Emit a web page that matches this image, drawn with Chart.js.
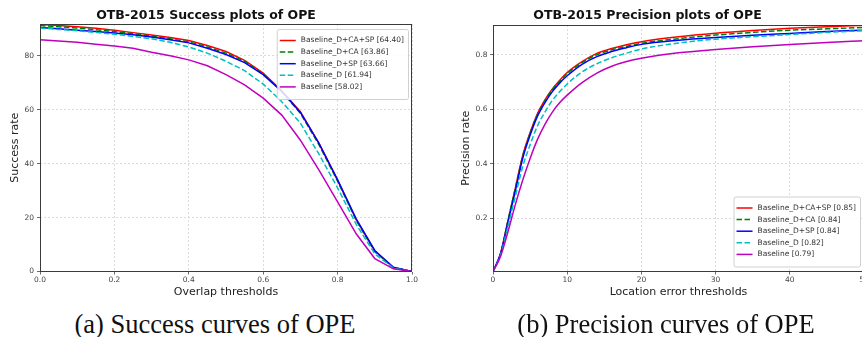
<!DOCTYPE html>
<html>
<head>
<meta charset="utf-8">
<script src="https://cdn.jsdelivr.net/npm/chart.js@4.4.1/dist/chart.umd.min.js"></script>
<style>
  html, body { margin: 0; padding: 0; background: #fff; overflow: hidden; }
  body { width: 862px; height: 337px; position: relative; }
  canvas { position: absolute; top: 0; }
  #successChart { left: 0; }
  #precisionChart { left: 431px; }
  .caption {
    position: absolute; top: 309px; width: 400px; text-align: center;
    font-family: "Liberation Serif", serif; font-size: 26.5px; line-height: 30px; color: #111;
  }
</style>
</head>
<body>
<canvas id="successChart" width="452" height="300"></canvas>
<canvas id="precisionChart" width="495" height="300"></canvas>
<div class="caption" style="left: 15px;">(a) Success curves of OPE</div>
<div class="caption" style="left: 466px;">(b) Precision curves of OPE</div>
<script>
// Series names and their scores shown in the legends
const seriesNames = ["Baseline_D+CA+SP", "Baseline_D+CA", "Baseline_D+SP", "Baseline_D", "Baseline"];
const seriesColors = ["#ff0000", "#008000", "#0000ff", "#00bfbf", "#bf00bf"];
const seriesDashed = [false, true, false, true, false];
const successScores = [64.40, 63.86, 63.66, 61.94, 58.02];
const precisionScores = [0.85, 0.84, 0.84, 0.82, 0.79];

// Success plot: overlap thresholds
const overlapThresholds = [0, 0.05, 0.1, 0.15, 0.2, 0.25, 0.3, 0.35, 0.4, 0.45, 0.5,
  0.55, 0.6, 0.65, 0.7, 0.75, 0.8, 0.85, 0.9, 0.95, 1.0];
const successDCASP = [91.6, 91.2, 90.8, 90.2, 89.5, 88.6, 87.7, 86.8, 85.7, 83.8, 81.6,
  78.3, 73.6, 67.0, 59.3, 47.5, 33.9, 19.2, 7.6, 1.5, 0];
const successDCA = [91.2, 90.8, 90.3, 89.7, 89.0, 88.2, 87.3, 86.3, 85.2, 83.3, 81.0,
  78.0, 73.2, 66.7, 58.7, 47.0, 33.5, 19.0, 7.3, 1.5, 0];
const successDSP = [90.5, 90.0, 89.5, 89.0, 88.5, 87.8, 87.0, 86.0, 84.8, 82.8, 80.5,
  77.5, 73.0, 66.8, 59.0, 47.5, 34.0, 19.5, 7.8, 1.6, 0];
const successD = [90.3, 89.8, 89.3, 88.7, 88.0, 87.2, 86.3, 85.0, 83.3, 81.0, 78.0,
  74.5, 69.5, 63.0, 55.0, 43.5, 31.0, 17.5, 6.5, 1.3, 0];
const successBase = [86.0, 85.5, 85.0, 84.3, 83.6, 82.8, 81.3, 80.0, 78.5, 76.3, 73.0,
  69.2, 64.3, 58.0, 48.7, 37.6, 25.8, 14.0, 4.8, 1.0, 0];
const successXTicks = [0, 0.2, 0.4, 0.6, 0.8, 1.0];
const successYTicks = [0, 20, 40, 60, 80];

// Precision plot: location error thresholds
const errorThresholds = [0, 1, 2, 3, 4, 5, 6, 7, 8, 9, 10, 12, 14, 16, 18, 20, 25, 30, 35, 40, 45, 50];
const precDCASP = [0.006, 0.07, 0.19, 0.31, 0.43, 0.515, 0.585, 0.635, 0.675, 0.707, 0.735,
  0.775, 0.805, 0.823, 0.837, 0.848, 0.866, 0.879, 0.889, 0.897, 0.903, 0.908];
const precDCA = [0.006, 0.07, 0.19, 0.31, 0.428, 0.512, 0.582, 0.632, 0.672, 0.704, 0.731,
  0.771, 0.8, 0.818, 0.831, 0.842, 0.859, 0.872, 0.882, 0.89, 0.895, 0.9];
const precDSP = [0.006, 0.07, 0.185, 0.3, 0.42, 0.505, 0.575, 0.625, 0.665, 0.697, 0.723,
  0.765, 0.793, 0.812, 0.826, 0.838, 0.853, 0.863, 0.871, 0.878, 0.885, 0.89];
const precD = [0.006, 0.065, 0.17, 0.28, 0.39, 0.47, 0.54, 0.59, 0.633, 0.665, 0.693,
  0.737, 0.767, 0.789, 0.806, 0.821, 0.843, 0.857, 0.866, 0.874, 0.882, 0.888];
const precBase = [0.006, 0.06, 0.15, 0.25, 0.34, 0.42, 0.49, 0.545, 0.59, 0.625, 0.652,
  0.698, 0.733, 0.758, 0.775, 0.787, 0.807, 0.819, 0.829, 0.838, 0.845, 0.851];
const precisionXTicks = [0, 10, 20, 30, 40, 50];
const precisionYTicks = [0.2, 0.4, 0.6, 0.8];

Chart.defaults.font.family = "'DejaVu Sans', sans-serif";
Chart.defaults.color = "#333";

// Box around the plot area, like matplotlib spines
const frame = {
  id: "frame",
  afterDatasetsDraw(chart) {
    const { ctx, chartArea: a } = chart;
    ctx.save();
    ctx.strokeStyle = "#3a3a3a";
    ctx.lineWidth = 1;
    ctx.strokeRect(Math.round(a.left) + 0.5, Math.round(a.top) + 0.5,
      Math.round(a.width) - 1, Math.round(a.height) - 1);
    ctx.restore();
  },
};

// Framed legend inside the plot, top-right or bottom-right
const boxLegend = {
  id: "boxLegend",
  afterDraw(chart, args, opts) {
    const { ctx, chartArea: a } = chart;
    const sets = chart.data.datasets;
    ctx.save();
    ctx.font = "7.5px 'DejaVu Sans'";
    const textW = Math.max(...sets.map((d) => ctx.measureText(d.label).width));
    const rowH = 11.6;
    const w = 3 + 16 + 5 + textW + 4;
    const h = sets.length * rowH + 12;
    const x = a.right - 4 - w;
    const y = opts.corner === "top" ? a.top + 5 : a.bottom - 5 - h;
    ctx.fillStyle = "rgba(255,255,255,0.85)";
    ctx.strokeStyle = "#d0d0d0";
    ctx.lineWidth = 1;
    ctx.beginPath();
    ctx.roundRect(x + 0.5, y + 0.5, w, h, 2);
    ctx.fill();
    ctx.stroke();
    sets.forEach((d, i) => {
      const cy = y + 6 + rowH / 2 + i * rowH - 0.3;
      ctx.strokeStyle = d.borderColor;
      ctx.lineWidth = 1.5;
      ctx.setLineDash(d.borderDash || []);
      ctx.beginPath();
      ctx.moveTo(x + 3, cy);
      ctx.lineTo(x + 19, cy);
      ctx.stroke();
      ctx.setLineDash([]);
      ctx.fillStyle = "#333";
      ctx.textBaseline = "middle";
      ctx.fillText(d.label, x + 24, cy);
    });
    ctx.restore();
  },
};

function makeDatasets(xs, seriesList, scores, digits) {
  return seriesList.map((ys, i) => ({
    label: seriesNames[i] + " [" + scores[i].toFixed(digits) + "]",
    data: xs.map((x, j) => ({ x: x, y: ys[j] })),
    borderColor: seriesColors[i],
    borderWidth: 1.5,
    borderDash: seriesDashed[i] ? [5.5, 2.5] : [],
    pointRadius: 0,
    fill: false,
    order: seriesList.length - i,
  }));
}

function axisOptions(cfg) {
  return {
    type: "linear",
    min: cfg.min,
    max: cfg.max,
    afterBuildTicks: (s) => { s.ticks = cfg.ticks.map((v) => ({ value: v })); },
    afterFit: cfg.fit,
    grid: { color: "#d2d2d2", lineWidth: 0.8, tickColor: "#444", tickLength: 3 },
    border: { display: false, dash: [2, 2] },
    ticks: {
      font: { size: 7.5 },
      color: "#444",
      padding: cfg.pad,
      callback: cfg.fmt,
    },
    title: {
      display: true,
      text: cfg.title,
      font: { size: 11 },
      color: "#222",
      padding: cfg.titlePad,
    },
  };
}

function makeChart(id, title, titleBottom, datasets, xCfg, yCfg, corner, sidePad) {
  return new Chart(document.getElementById(id).getContext("2d"), {
    type: "line",
    data: { datasets: datasets },
    options: {
      responsive: false,
      animation: false,
      devicePixelRatio: 1,
      layout: { padding: { left: 0, right: sidePad, top: 0, bottom: 0 } },
      scales: { x: axisOptions(xCfg), y: axisOptions(yCfg) },
      plugins: {
        legend: { display: false },
        tooltip: { enabled: false },
        title: {
          display: true,
          text: title,
          font: { size: 12.5, weight: "bold" },
          color: "#111",
          padding: { top: 8, bottom: titleBottom },
        },
        boxLegend: { corner: corner },
      },
    },
    plugins: [frame, boxLegend],
  });
}

const successChart = makeChart(
  "successChart",
  "OTB-2015 Success plots of OPE",
  1,
  makeDatasets(overlapThresholds, [successDCASP, successDCA, successDSP, successD, successBase], successScores, 2),
  {
    min: 0, max: 1, ticks: successXTicks, pad: 1, fmt: (v) => Number(v).toFixed(1),
    title: "Overlap thresholds", titlePad: { top: 0, bottom: 1.4 },
    fit: (s) => { s.height = 28.5; },
  },
  {
    min: 0, max: 91.8, ticks: successYTicks, pad: 3, fmt: (v) => String(v),
    title: "Success rate", titlePad: { top: 8.4, bottom: 0 },
    fit: (s) => { s.width = 40; },
  },
  "top",
  40
);

const precisionChart = makeChart(
  "precisionChart",
  "OTB-2015 Precision plots of OPE",
  2,
  makeDatasets(errorThresholds, [precDCASP, precDCA, precDSP, precD, precBase], precisionScores, 2),
  {
    min: 0, max: 50, ticks: precisionXTicks, pad: 1, fmt: (v) => String(v),
    title: "Location error thresholds", titlePad: { top: 0, bottom: 1.4 },
    fit: (s) => { s.height = 28.5; },
  },
  {
    min: 0.006, max: 0.909, ticks: precisionYTicks, pad: 2.5, fmt: (v) => Number(v).toFixed(1),
    title: "Precision rate", titlePad: { top: 28.4, bottom: 0 },
    fit: (s) => { s.width = 62; },
  },
  "bottom",
  62
);
precisionChart.data.datasets.forEach((d) => { d.cubicInterpolationMode = "monotone"; });
precisionChart.update();
</script>
</body>
</html>
